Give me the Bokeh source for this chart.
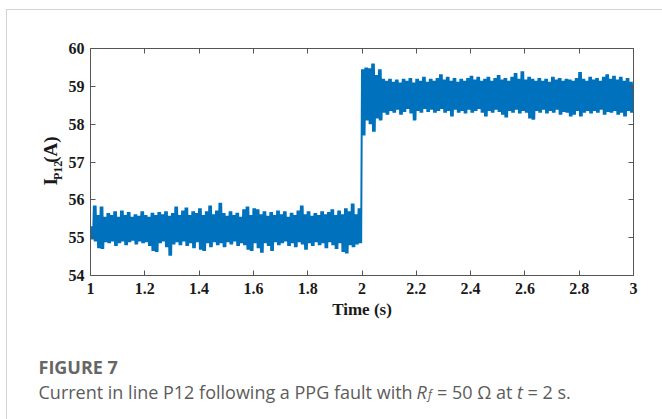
import numpy as np
from bokeh.plotting import figure
from bokeh.layouts import row, column
from bokeh.models import LinearAxis, FixedTicker, CustomJSTickFormatter, Range1d
from bokeh.embed import file_html
from bokeh.resources import INLINE
from bokeh.core.properties import value

# ---------------- data ----------------
dt = 0.0125  # seconds between envelope samples

# pre-fault (t = 1.0 ... 2.0): upper / lower envelope of the ripple
pre_hi = [55.30, 55.85, 55.60, 55.82, 55.55, 55.65, 55.60, 55.70, 55.55, 55.72,
          55.60, 55.68, 55.55, 55.62, 55.58, 55.70, 55.60, 55.55, 55.66, 55.60,
          55.68, 55.62, 55.70, 55.58, 55.65, 55.82, 55.60, 55.72, 55.80, 55.60,
          55.70, 55.65, 55.78, 55.60, 55.70, 55.85, 55.62, 55.72, 55.92, 55.65,
          55.58, 55.70, 55.60, 55.66, 55.55, 55.75, 55.82, 55.60, 55.78, 55.75,
          55.62, 55.70, 55.58, 55.68, 55.60, 55.72, 55.62, 55.70, 55.55, 55.66,
          55.60, 55.72, 55.85, 55.62, 55.70, 55.58, 55.65, 55.60, 55.70, 55.62,
          55.68, 55.75, 55.60, 55.72, 55.62, 55.78, 55.70, 55.90, 55.62, 55.78]
pre_lo = [54.95, 54.90, 54.72, 54.70, 54.88, 54.85, 54.90, 54.78, 54.85, 54.90,
          54.80, 54.88, 54.92, 54.82, 54.90, 54.85, 54.88, 54.78, 54.65, 54.62,
          54.85, 54.90, 54.75, 54.52, 54.82, 54.88, 54.80, 54.90, 54.78, 54.85,
          54.72, 54.88, 54.68, 54.65, 54.85, 54.75, 54.88, 54.80, 54.85, 54.75,
          54.88, 54.82, 54.90, 54.78, 54.85, 54.80, 54.68, 54.65, 54.85, 54.72,
          54.60, 54.85, 54.78, 54.65, 54.88, 54.80, 54.85, 54.90, 54.78, 54.85,
          54.75, 54.88, 54.82, 54.68, 54.85, 54.78, 54.88, 54.80, 54.85, 54.72,
          54.88, 54.80, 54.70, 54.85, 54.62, 54.58, 54.80, 54.75, 54.82, 54.85]

# post-fault (t = 2.0 ... 3.0)
post_hi = [59.45, 59.50, 59.48, 59.60, 59.30, 59.45, 59.20, 59.15, 59.20, 59.12,
           59.18, 59.10, 59.20, 59.15, 59.22, 59.10, 59.20, 59.15, 59.25, 59.12,
           59.20, 59.15, 59.22, 59.32, 59.18, 59.25, 59.15, 59.22, 59.12, 59.20,
           59.15, 59.22, 59.28, 59.18, 59.25, 59.15, 59.20, 59.25, 59.15, 59.22,
           59.30, 59.18, 59.22, 59.15, 59.25, 59.35, 59.20, 59.40, 59.18, 59.25,
           59.20, 59.15, 59.22, 59.15, 59.20, 59.12, 59.25, 59.18, 59.22, 59.15,
           59.20, 59.18, 59.15, 59.22, 59.38, 59.20, 59.15, 59.25, 59.18, 59.22,
           59.15, 59.25, 59.32, 59.20, 59.28, 59.18, 59.25, 59.15, 59.22, 59.12, 59.05]
post_lo = [57.70, 58.10, 58.00, 57.80, 58.15, 58.10, 58.30, 58.25, 58.35, 58.30,
           58.38, 58.25, 58.32, 58.40, 58.28, 58.10, 58.35, 58.30, 58.40, 58.32,
           58.38, 58.30, 58.35, 58.40, 58.30, 58.35, 58.20, 58.38, 58.30, 58.35,
           58.28, 58.38, 58.30, 58.35, 58.40, 58.30, 58.20, 58.35, 58.30, 58.38,
           58.32, 58.25, 58.18, 58.35, 58.30, 58.38, 58.28, 58.35, 58.30, 58.15,
           58.12, 58.35, 58.30, 58.38, 58.28, 58.35, 58.30, 58.38, 58.25, 58.32,
           58.30, 58.20, 58.25, 58.35, 58.20, 58.30, 58.35, 58.28, 58.35, 58.30,
           58.38, 58.25, 58.32, 58.30, 58.35, 58.25, 58.30, 58.20, 58.35, 58.30, 58.40]

x_ticks = [1.0, 1.2, 1.4, 1.6, 1.8, 2.0, 2.2, 2.4, 2.6, 2.8, 3.0]
x_tick_labels = ["1", "1.2", "1.4", "1.6", "1.8", "2", "2.2", "2.4", "2.6", "2.8", "3"]
y_ticks = [54, 55, 56, 57, 58, 59, 60]
y_tick_labels = ["54", "55", "56", "57", "58", "59", "60"]

# ---------------- build the rippled trace ----------------
t_pre = 1.0 + dt * np.arange(len(pre_hi))
t_post = 2.0 + dt * np.arange(len(post_hi))
t_all = np.concatenate([t_pre, t_post])
hi_all = np.concatenate([pre_hi, post_hi])
lo_all = np.concatenate([pre_lo, post_lo])
xs, ys = [], []
for ti, h, l in zip(t_all, hi_all, lo_all):
    xs += [ti, ti + dt / 4, ti + dt / 2, ti + 3 * dt / 4]
    ys += [h, l, h, l]

# ---------------- main figure ----------------
p = figure(width=597, height=320, x_range=Range1d(1, 3), y_range=Range1d(54, 60),
           output_backend="svg", toolbar_location=None,
           min_border_left=23, min_border_right=29, min_border_top=38, min_border_bottom=55)
p.grid.visible = False
p.outline_line_color = None
p.background_fill_color = "white"
p.border_fill_color = "white"

p.line(xs, ys, line_width=2, color="#0072BD")

axis_color = "#555555"
tick_font = "Liberation Serif"

def style_axis(ax):
    ax.major_tick_in = 5
    ax.major_tick_out = 0
    ax.minor_tick_line_color = None
    ax.axis_line_color = axis_color
    ax.major_tick_line_color = axis_color
    ax.major_label_text_font = tick_font
    ax.major_label_text_font_style = "bold"
    ax.major_label_text_font_size = "16px"
    ax.major_label_text_color = "#1a1a1a"

xa = p.xaxis[0]
ya = p.yaxis[0]
xa.ticker = FixedTicker(ticks=x_ticks)
xa.major_label_overrides = dict(zip(x_ticks, x_tick_labels))
ya.ticker = FixedTicker(ticks=y_ticks)
ya.major_label_overrides = dict(zip(y_ticks, y_tick_labels))
style_axis(xa)
style_axis(ya)
xa.major_label_standoff = 7
ya.major_label_standoff = 6
xa.axis_label = "Time (s)"
xa.axis_label_text_font = tick_font
xa.axis_label_text_font_style = "bold"
xa.axis_label_text_font_size = "17px"
xa.axis_label_text_color = "#1a1a1a"
xa.axis_label_standoff = 3

top = LinearAxis(ticker=FixedTicker(ticks=x_ticks), formatter=CustomJSTickFormatter(code="return ''"))
right = LinearAxis(ticker=FixedTicker(ticks=y_ticks), formatter=CustomJSTickFormatter(code="return ''"))
style_axis(top)
style_axis(right)
top.major_label_standoff = 0
right.major_label_standoff = 0
p.add_layout(top, "above")
p.add_layout(right, "right")

# ---------------- text panels (page-pixel coordinates) ----------------
def text_panel(w, h, x0, y0):
    f = figure(width=w, height=h, x_range=Range1d(x0, x0 + w), y_range=Range1d(y0 + h, y0),
               output_backend="svg", toolbar_location=None, x_axis_type=None, y_axis_type=None,
               min_border=0, min_border_left=0, min_border_right=0, min_border_top=0,
               min_border_bottom=0)
    f.grid.visible = False
    f.outline_line_color = None
    f.background_fill_color = "white"
    f.border_fill_color = "white"
    return f

# y-axis title  I_P12 (A)
ylab = text_panel(58, 320, 7, 10)
serif_kw = dict(angle=np.pi / 2, text_font=value(tick_font), text_font_style="bold",
                text_color="#1a1a1a", text_align="left", text_baseline="alphabetic")
ylab.text(x=[49.5], y=[203], text=["I"], text_font_size="19px", **serif_kw)
ylab.text(x=[57.5], y=[195.5], text=["P12"], text_font_size="12px", **serif_kw)
ylab.text(x=[49.5], y=[171], text=["(A)"], text_font_size="19px", **serif_kw)

# caption
cap = text_panel(655, 89, 7, 330)
cap_color = "#5c5c5c"
fs = "18px"
sans_kw = dict(text_font=value("Open Sans"), text_align="left", text_baseline="alphabetic")
cap.text(x=[38], y=[366], text=["FIGURE 7"], text_font_size="18px", text_font_style="bold",
         text_color="#666666", **sans_kw)
cy = 391
cap.text(x=[38], y=[cy], text=["Current in line P12 following a PPG fault with"],
         text_font_size=fs, text_color=cap_color, **sans_kw)
cap.text(x=[416], y=[cy], text=["R"], text_font_size=fs, text_font_style="italic",
         text_color=cap_color, **sans_kw)
cap.text(x=[427.5], y=[cy + 3], text=["f"], text_font_size="12px", text_font_style="italic",
         text_color=cap_color, **sans_kw)
cap.text(x=[436.5], y=[cy], text=["= 50 \u03a9 at"], text_font_size=fs,
         text_color=cap_color, **sans_kw)
cap.text(x=[516.5], y=[cy], text=["t"], text_font_size=fs, text_font_style="italic",
         text_color=cap_color, **sans_kw)
cap.text(x=[527], y=[cy], text=["= 2 s."], text_font_size=fs,
         text_color=cap_color, **sans_kw)

layout = column(row(ylab, p, spacing=0), cap, spacing=0)
layout.margin = (9, 0, 0, 6)
layout.styles = {"border-top": "1px solid #d4d4d4", "border-left": "1px solid #d4d4d4"}

open("out.html", "w").write(file_html(layout, INLINE))
